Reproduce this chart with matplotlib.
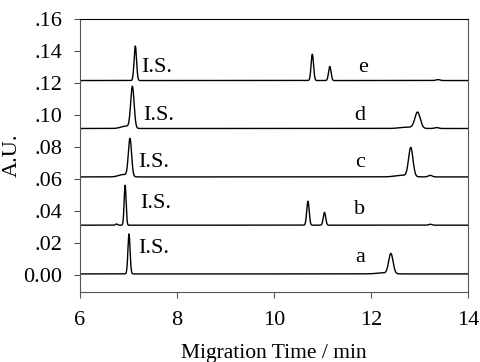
import matplotlib.pyplot as plt
import numpy as np

plt.rcParams['font.family'] = ['Liberation Serif', 'DejaVu Serif']

# baselines of the stacked traces (A.U.)
labels = ['a', 'b', 'c', 'd', 'e']
baselines = [0.0005, 0.031, 0.0612, 0.0915, 0.1215]

# peaks per trace: (migration time, height, width sigma)
peaks = {
    'a': [(7.01, 0.0250, 0.022), (12.41, 0.0125, 0.045), (12.25, 0.0006, 0.15)],
    'b': [(6.75, 0.0008, 0.02), (6.93, 0.0250, 0.020), (10.70, 0.0150, 0.025),
          (11.04, 0.0080, 0.025), (13.22, 0.0006, 0.03)],
    'c': [(7.03, 0.0235, 0.033), (6.90, 0.0015, 0.10), (12.82, 0.0180, 0.045),
          (12.65, 0.0010, 0.15), (13.22, 0.0010, 0.04)],
    'd': [(7.08, 0.0258, 0.035), (6.95, 0.0015, 0.10), (12.96, 0.0100, 0.055),
          (12.75, 0.0008, 0.15), (13.35, 0.0006, 0.04)],
    'e': [(7.14, 0.0216, 0.025), (10.79, 0.0165, 0.025), (11.15, 0.0088, 0.025),
          (13.38, 0.0006, 0.04)],
}

# text label positions (time, A.U.)
is_pos = [(7.2, 0.0165), (7.24, 0.0445), (7.2, 0.0705), (7.3, 0.0995), (7.27, 0.1295)]
letter_pos = [(11.77, 0.011), (11.77, 0.0405), (11.77, 0.0705), (11.77, 0.0995), (11.84, 0.1295)]

t = np.linspace(6, 14, 4000)

fig = plt.figure(figsize=(4.8, 3.62), dpi=100)
ax = fig.add_axes([0.1667, 0.1934, 0.8083, 0.7541])

for i, lab in enumerate(labels):
    y = np.full_like(t, baselines[i])
    for pos, h, w in peaks[lab]:
        y += h * np.exp(-0.5 * ((t - pos) / w) ** 2)
    ax.plot(t, y, color='black', linewidth=1.0)
    ax.text(is_pos[i][0], is_pos[i][1], 'I.S.', fontsize=16, va='center', ha='left')
    ax.text(letter_pos[i][0], letter_pos[i][1], lab, fontsize=16, va='center', ha='center')

ax.set_xlim(6, 14)
ax.set_ylim(-0.0108, 0.16)
ax.set_xticks([6, 8, 10, 12, 14])
yt = [0.0, 0.02, 0.04, 0.06, 0.08, 0.10, 0.12, 0.14, 0.16]
ax.set_yticks(yt)
ax.set_yticklabels(['0.00'] + ['.%02d' % round(v * 100) for v in yt[1:]])
ax.tick_params(direction='out', length=4, width=0.8, color='#555555', labelsize=16)
ax.tick_params(axis='x', pad=10)
ax.tick_params(axis='y', pad=9)
for s in ['left', 'right', 'bottom']:
    ax.spines[s].set_color('#555555')
ax.spines['top'].set_color('black')
ax.set_xlabel('Migration Time / min', fontsize=15.5)
ax.xaxis.set_label_coords(0.5, -0.192)
ax.set_ylabel('A.U.', fontsize=16)
ax.yaxis.set_label_coords(-0.15, 0.5)

fig.savefig('out.png', dpi=100)
